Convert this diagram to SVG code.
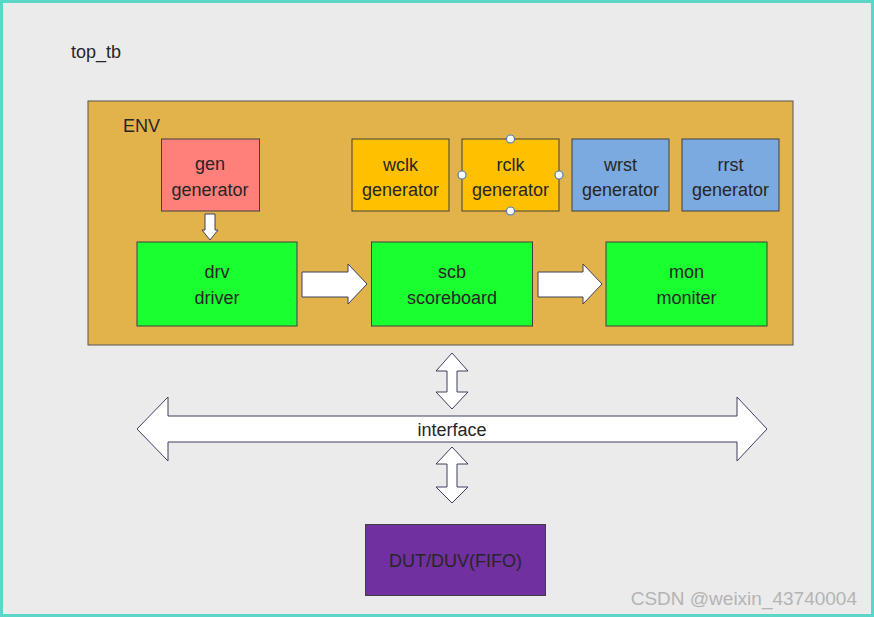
<svg xmlns="http://www.w3.org/2000/svg" width="874" height="617" viewBox="0 0 874 617">
<defs>
<style>
.t{font-family:"Liberation Sans",Arial,sans-serif;font-size:18px;fill:#262626;text-anchor:middle}
.tl{font-family:"Liberation Sans",Arial,sans-serif;font-size:18px;fill:#262626}
.box{stroke:#404040;stroke-width:1}
.arr{fill:#ffffff;stroke:#3c4160;stroke-width:1;stroke-linejoin:miter}
.h{fill:#ffffff;stroke:#4a7ebb;stroke-width:1.2}
</style>
</defs>
<rect x="1.5" y="1.5" width="871" height="614" fill="#ebebeb" stroke="#5cd6c6" stroke-width="3"/>
<g id="top_tb"><text class="tl" x="71" y="58">top_tb</text></g>
<g id="env">
<rect x="88" y="101" width="705" height="244" fill="#e2b34b" stroke="#555" stroke-width="1"/>
<text class="tl" x="123" y="132">ENV</text>
</g>
<g id="gen"><rect class="box" x="161.5" y="139" width="98" height="72" fill="#ff7f7a"/><text class="t" x="210" y="170">gen</text><text class="t" x="210" y="196">generator</text></g>
<g id="wclk"><rect class="box" x="352" y="139" width="97" height="72" fill="#ffc000"/><text class="t" x="400.5" y="171">wclk</text><text class="t" x="400.5" y="196">generator</text></g>
<g id="rclk"><rect class="box" x="462" y="139" width="97" height="72" fill="#ffc000"/><text class="t" x="510.5" y="171">rclk</text><text class="t" x="510.5" y="196">generator</text>
<circle class="h" cx="510.5" cy="139" r="4"/><circle class="h" cx="510.5" cy="211" r="4"/><circle class="h" cx="462" cy="175" r="4"/><circle class="h" cx="559" cy="175" r="4"/></g>
<g id="wrst"><rect class="box" x="572" y="139" width="97" height="72" fill="#7baae0"/><text class="t" x="620.5" y="171">wrst</text><text class="t" x="620.5" y="196">generator</text></g>
<g id="rrst"><rect class="box" x="682" y="139" width="97" height="72" fill="#7baae0"/><text class="t" x="730.5" y="171">rrst</text><text class="t" x="730.5" y="196">generator</text></g>
<g id="drv"><rect class="box" x="137" y="242" width="160" height="84" fill="#1aff2f"/><text class="t" x="217" y="278">drv</text><text class="t" x="217" y="304">driver</text></g>
<g id="scb"><rect class="box" x="371.5" y="242" width="161" height="84" fill="#1aff2f"/><text class="t" x="452" y="278">scb</text><text class="t" x="452" y="304">scoreboard</text></g>
<g id="mon"><rect class="box" x="606" y="242" width="161" height="84" fill="#1aff2f"/><text class="t" x="686.5" y="278">mon</text><text class="t" x="686.5" y="304">moniter</text></g>
<g id="dut"><rect class="box" x="365.5" y="524.5" width="180" height="71" fill="#7030a0"/><text class="t" x="455.5" y="567">DUT/DUV(FIFO)</text></g>
<g id="connectors">
<path class="arr" d="M205,214 L215,214 L215,230 L218,230 L210,240 L202,230 L205,230 Z"/>
<path class="arr" d="M302,272 L348,272 L348,264 L367,284 L348,304 L348,297 L302,297 Z"/>
<path class="arr" d="M538,272 L583,272 L583,264 L602,284 L583,304 L583,297 L538,297 Z"/>
<path class="arr" d="M452,353 L468,371 L457,371 L457,392 L468,392 L452,409 L436,392 L447,392 L447,371 L436,371 Z"/>
<path class="arr" d="M452,447 L468,464 L457,464 L457,487 L468,487 L452,503 L436,487 L447,487 L447,464 L436,464 Z"/>
<g id="interface">
<path class="arr" d="M137,429 L168,397 L168,416 L737,416 L737,397 L767,429 L737,461 L737,442 L168,442 L168,461 Z"/>
<text class="t" x="452" y="436">interface</text>
</g>
</g>
<text x="857" y="605" text-anchor="end" font-family="Liberation Sans,Arial,sans-serif" font-size="19" fill="#b4b4b4">CSDN @weixin_43740004</text>
</svg>
